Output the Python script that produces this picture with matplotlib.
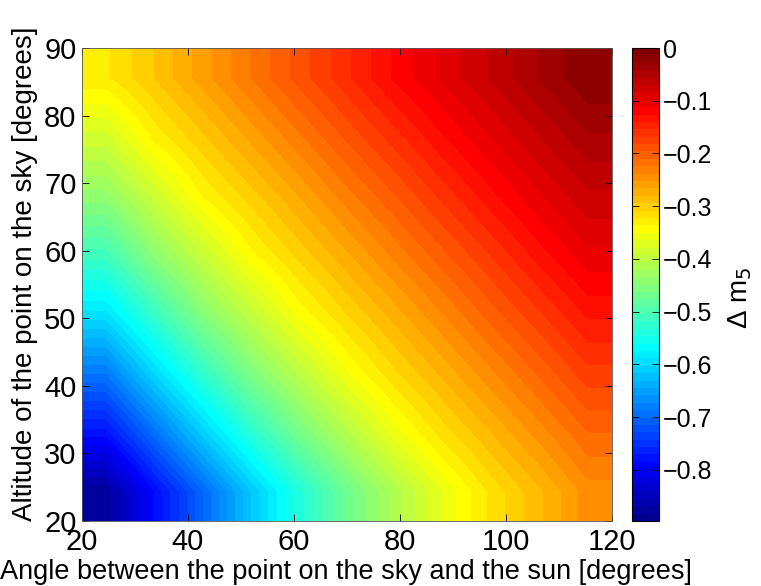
import numpy as np
import matplotlib
matplotlib.use("Agg")
import matplotlib.pyplot as plt
from matplotlib.colors import ListedColormap

plt.rcParams['font.family'] = ['Liberation Sans', 'DejaVu Sans']

angle = [20, 30, 40, 50, 60, 70, 80, 90, 100, 110, 120]
altitude = [20, 30, 40, 50, 60, 70, 80, 90]

dm5_alt20 = [-0.88, -0.785, -0.702, -0.618, -0.539, -0.471, -0.414, -0.362, -0.318, -0.283, -0.245]
dm5_alt30 = [-0.777, -0.693, -0.610, -0.532, -0.464, -0.409, -0.357, -0.315, -0.280, -0.245, -0.21]
dm5_alt40 = [-0.685, -0.602, -0.525, -0.457, -0.404, -0.352, -0.311, -0.276, -0.241, -0.207, -0.173]
dm5_alt50 = [-0.593, -0.519, -0.45, -0.398, -0.346, -0.308, -0.273, -0.238, -0.203, -0.17, -0.137]
dm5_alt60 = [-0.512, -0.445, -0.393, -0.341, -0.304, -0.269, -0.234, -0.20, -0.167, -0.133, -0.102]
dm5_alt70 = [-0.440, -0.388, -0.336, -0.301, -0.266, -0.23, -0.197, -0.163, -0.13, -0.099, -0.073]
dm5_alt80 = [-0.383, -0.332, -0.297, -0.262, -0.227, -0.193, -0.16, -0.127, -0.097, -0.07, -0.044]
dm5_alt90 = [-0.325, -0.294, -0.259, -0.224, -0.19, -0.157, -0.123, -0.094, -0.068, -0.041, -0.015]

Z = np.array([dm5_alt20, dm5_alt30, dm5_alt40, dm5_alt50,
              dm5_alt60, dm5_alt70, dm5_alt80, dm5_alt90])

xticks = [20, 40, 60, 80, 100, 120]
yticks = [20, 30, 40, 50, 60, 70, 80, 90]
cticks = [0, -0.1, -0.2, -0.3, -0.4, -0.5, -0.6, -0.7, -0.8]
vmin, vmax = -0.897, 0.0


def matlab_jet(m=64):
    n = int(np.ceil(m / 4))
    u = np.concatenate([np.arange(1, n + 1) / n, np.ones(n - 1), np.arange(n, 0, -1) / n])
    g = int(np.ceil(n / 2)) - (1 if m % 4 == 1 else 0) + np.arange(1, len(u) + 1)
    r = g + n
    b = g - n
    g = g[g <= m]
    r = r[r <= m]
    b = b[b >= 1]
    J = np.zeros((m, 3))
    J[r - 1, 0] = u[:len(r)]
    J[g - 1, 1] = u[:len(g)]
    J[b - 1, 2] = u[len(u) - len(b):]
    return ListedColormap(J)


W, H = 761, 586
fig = plt.figure(figsize=(W / 100, H / 100), dpi=100)
ax = fig.add_axes([82 / W, 1 - 521 / H, (612 - 82) / W, (521 - 48) / H])
cax = fig.add_axes([632 / W, 1 - 521 / H, (659 - 632) / W, (521 - 48) / H])

cmap = matlab_jet(64)
m = ax.imshow(Z, origin='lower', extent=[angle[0], angle[-1], altitude[0], altitude[-1]],
              aspect='auto', cmap=cmap, vmin=vmin, vmax=vmax, interpolation='bilinear')
ax.set_xlim(20, 120)
ax.set_ylim(20, 90)
ax.set_xticks(xticks)
ax.set_yticks(yticks)
ax.tick_params(direction='in', labelsize=21, length=5, width=0.6, top=True, right=True)
ax.tick_params(axis='x', pad=5)
ax.tick_params(axis='y', pad=4)
for s in ax.spines.values():
    s.set_linewidth(0.6)
    s.set_color('#555555')

fig.text(346 / W, 1 - 572 / H, 'Angle between the point on the sky and the sun [degrees]',
         fontsize=19.5, ha='center', va='center')
fig.text(25 / W, 1 - 274 / H, 'Altitude of the point on the sky [degrees]',
         fontsize=20, ha='center', va='center', rotation=90)

cb = fig.colorbar(m, cax=cax)
cb.set_ticks(cticks)
cb.set_ticklabels(['0' if t == 0 else '\u2212%.1f' % abs(t) for t in cticks])
cax.tick_params(direction='in', labelsize=18, length=5, width=0.6, left=True, right=True, pad=3)
cb.outline.set_linewidth(0.8)
fig.text(740 / W, 1 - 298 / H, '\u0394 m$_5$', fontsize=20, ha='center', va='center', rotation=90)

fig.savefig('out.png', dpi=100)
